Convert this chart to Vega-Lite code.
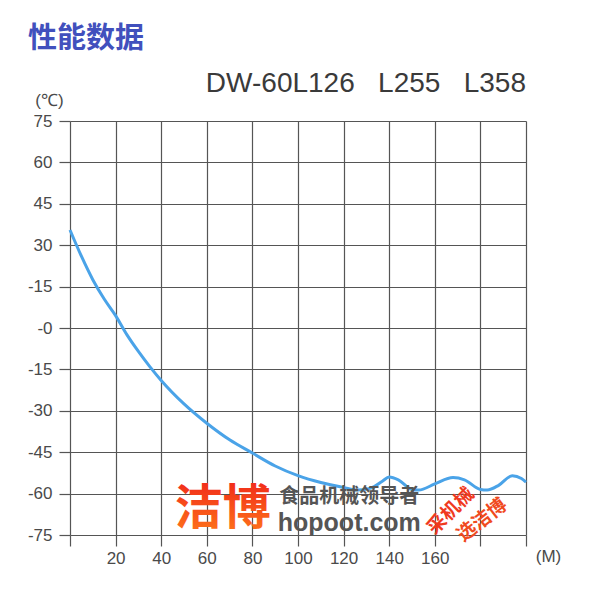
{
  "$schema": "https://vega.github.io/schema/vega-lite/v6.json",
  "autosize": "none",
  "width": 456,
  "height": 414,
  "padding": {"left": 70, "top": 121, "right": 74, "bottom": 65},
  "background": "white",
  "title": {
    "text": "性能数据",
    "anchor": "start",
    "frame": "group",
    "dx": -42,
    "offset": 16,
    "font": "Noto Sans CJK SC",
    "fontSize": 29,
    "fontWeight": "bold",
    "color": "#4150bd"
  },
  "config": {
    "view": {"stroke": null},
    "axis": {
      "domain": false,
      "grid": true,
      "gridColor": "#555555",
      "gridWidth": 1.2,
      "gridOpacity": 1,
      "tickColor": "#555555",
      "tickWidth": 1.2,
      "tickSize": 11,
      "labelFont": "Liberation Sans",
      "labelFontSize": 17,
      "labelColor": "#4a4a4a",
      "titleFont": "Liberation Sans",
      "titleFontSize": 17,
      "titleFontWeight": "normal",
      "titleColor": "#4a4a4a"
    }
  },
  "layer": [
    {
      "data": {
        "values": [
          {"m": 0, "t": 35.5}, {"m": 5, "t": 26}, {"m": 10, "t": 17.5}, {"m": 15, "t": 10.5},
          {"m": 20, "t": 4.5}, {"m": 25, "t": -2.5}, {"m": 30, "t": -8.5}, {"m": 35, "t": -14},
          {"m": 40, "t": -19}, {"m": 50, "t": -27.5}, {"m": 60, "t": -34.5}, {"m": 70, "t": -40.5},
          {"m": 80, "t": -45.3}, {"m": 90, "t": -50}, {"m": 100, "t": -53.5}, {"m": 110, "t": -56},
          {"m": 120, "t": -57.8}, {"m": 126, "t": -58.7}, {"m": 132, "t": -58}, {"m": 137, "t": -55.5},
          {"m": 140, "t": -54}, {"m": 144, "t": -55}, {"m": 150, "t": -58.5}, {"m": 153, "t": -58.7},
          {"m": 160, "t": -56.5}, {"m": 168, "t": -54.2}, {"m": 173, "t": -55}, {"m": 180, "t": -58.5},
          {"m": 183, "t": -58.7}, {"m": 188, "t": -57}, {"m": 194, "t": -53.5}, {"m": 198, "t": -54.5},
          {"m": 200, "t": -55.8}
        ]
      },
      "mark": {"type": "line", "color": "#4aa3e8", "strokeWidth": 3, "interpolate": "monotone", "clip": false},
      "encoding": {
        "x": {
          "field": "m", "type": "quantitative",
          "scale": {"domain": [0, 200], "nice": false, "zero": false},
          "axis": {
            "values": [0, 20, 40, 60, 80, 100, 120, 140, 160, 180, 200],
            "labelExpr": "datum.value >= 20 && datum.value <= 160 ? '' + datum.value : ''",
            "labelPadding": 4,
            "title": "(M)",
            "titleAngle": 0,
            "titleX": 478,
            "titleY": 21,
            "titleAlign": "center",
            "titleBaseline": "middle"
          }
        },
        "y": {
          "field": "t", "type": "quantitative",
          "scale": {"domain": [-75, 75], "nice": false, "zero": false},
          "axis": {
            "values": [-75, -60, -45, -30, -15, 0, 15, 30, 45, 60, 75],
            "labelExpr": "datum.value == 15 ? '-15' : datum.value == 0 ? '-0' : '' + datum.value",
            "labelPadding": 7,
            "title": "(℃)",
            "titleAngle": 0,
            "titleX": -21,
            "titleY": -21,
            "titleAlign": "center",
            "titleBaseline": "middle"
          }
        }
      }
    },
    {
      "data": {"values": [{"m": 200, "t": 88.5, "label": "DW-60L126\u00a0\u00a0\u00a0L255\u00a0\u00a0\u00a0L358"}]},
      "mark": {"type": "text", "align": "right", "baseline": "middle", "font": "Liberation Sans", "fontSize": 28, "color": "#3a3a3a", "clip": false},
      "encoding": {
        "x": {"field": "m", "type": "quantitative"},
        "y": {"field": "t", "type": "quantitative"},
        "text": {"field": "label"}
      }
    },
    {
      "data": {"values": [{"m": 67, "t": -66, "label": "洁博"}]},
      "mark": {
        "type": "text", "align": "center", "baseline": "middle", "font": "Noto Sans CJK SC", "fontWeight": "bold", "fontSize": 48,
        "fill": {"gradient": "linear", "x1": 0, "y1": 0, "x2": 0, "y2": 1, "stops": [{"offset": 0, "color": "#ee1a1a"}, {"offset": 1, "color": "#ff7a1a"}]}
      },
      "encoding": {
        "x": {"field": "m", "type": "quantitative"},
        "y": {"field": "t", "type": "quantitative"},
        "text": {"field": "label"}
      }
    },
    {
      "data": {"values": [{"m": 122.5, "t": -61.3, "label": "食品机械领导者"}]},
      "mark": {"type": "text", "align": "center", "baseline": "middle", "font": "Noto Sans CJK SC", "fontWeight": "bold", "fontSize": 20, "color": "#555555"},
      "encoding": {
        "x": {"field": "m", "type": "quantitative"},
        "y": {"field": "t", "type": "quantitative"},
        "text": {"field": "label"}
      }
    },
    {
      "data": {"values": [{"m": 122.5, "t": -70.7, "label": "hopoot.com"}]},
      "mark": {"type": "text", "align": "center", "baseline": "middle", "font": "Liberation Sans", "fontWeight": "bold", "fontSize": 25, "color": "#555555"},
      "encoding": {
        "x": {"field": "m", "type": "quantitative"},
        "y": {"field": "t", "type": "quantitative"},
        "text": {"field": "label"}
      }
    },
    {
      "data": {"values": [{"m": 167, "t": -66.3, "label": "采机械"}]},
      "mark": {"type": "text", "align": "center", "baseline": "middle", "font": "Noto Sans CJK SC", "fontWeight": "bold", "fontSize": 19, "angle": 315, "color": "#f03a1e"},
      "encoding": {
        "x": {"field": "m", "type": "quantitative"},
        "y": {"field": "t", "type": "quantitative"},
        "text": {"field": "label"}
      }
    },
    {
      "data": {"values": [{"m": 180.7, "t": -69.6, "label": "选洁博"}]},
      "mark": {"type": "text", "align": "center", "baseline": "middle", "font": "Noto Sans CJK SC", "fontWeight": "bold", "fontSize": 19, "angle": 322, "color": "#f04a1e"},
      "encoding": {
        "x": {"field": "m", "type": "quantitative"},
        "y": {"field": "t", "type": "quantitative"},
        "text": {"field": "label"}
      }
    }
  ]
}
